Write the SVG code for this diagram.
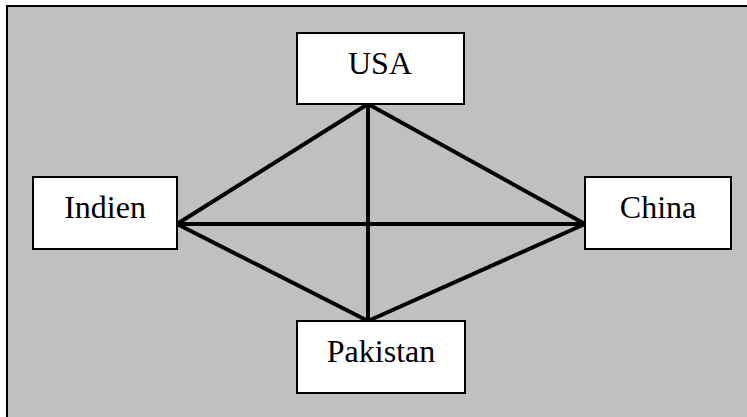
<svg xmlns="http://www.w3.org/2000/svg" width="747" height="417" viewBox="0 0 747 417">
  <style>
    .box { fill: #ffffff; stroke: #000000; stroke-width: 2; }
    .label { font-family: "Liberation Serif", "Times New Roman", serif; font-size: 32px; fill: #000000; text-anchor: middle; }
    .link { stroke: #000000; stroke-width: 4; fill: none; stroke-linecap: round; }
  </style>
  <rect x="0" y="0" width="747" height="417" fill="#ffffff"/>
  <!-- frame -->
  <rect x="7" y="6" width="780" height="440" fill="#c0c0c0" stroke="#000000" stroke-width="2"/>

  <g id="connectors">
    <line class="link" x1="368" y1="104" x2="177" y2="224"/>
    <line class="link" x1="368" y1="104" x2="585" y2="224"/>
    <line class="link" x1="368" y1="104" x2="368" y2="321"/>
    <line class="link" x1="177" y1="224" x2="585" y2="224"/>
    <line class="link" x1="177" y1="224" x2="368" y2="321"/>
    <line class="link" x1="585" y1="224" x2="368" y2="321"/>
  </g>

  <g id="usa">
    <rect class="box" x="297" y="33" width="167" height="71"/>
    <text class="label" x="380" y="74">USA</text>
  </g>
  <g id="indien">
    <rect class="box" x="33" y="177" width="144" height="72"/>
    <text class="label" x="105" y="218">Indien</text>
  </g>
  <g id="china">
    <rect class="box" x="585" y="177" width="146" height="72"/>
    <text class="label" x="658" y="218">China</text>
  </g>
  <g id="pakistan">
    <rect class="box" x="297" y="321" width="168" height="72"/>
    <text class="label" x="381" y="362">Pakistan</text>
  </g>
</svg>
